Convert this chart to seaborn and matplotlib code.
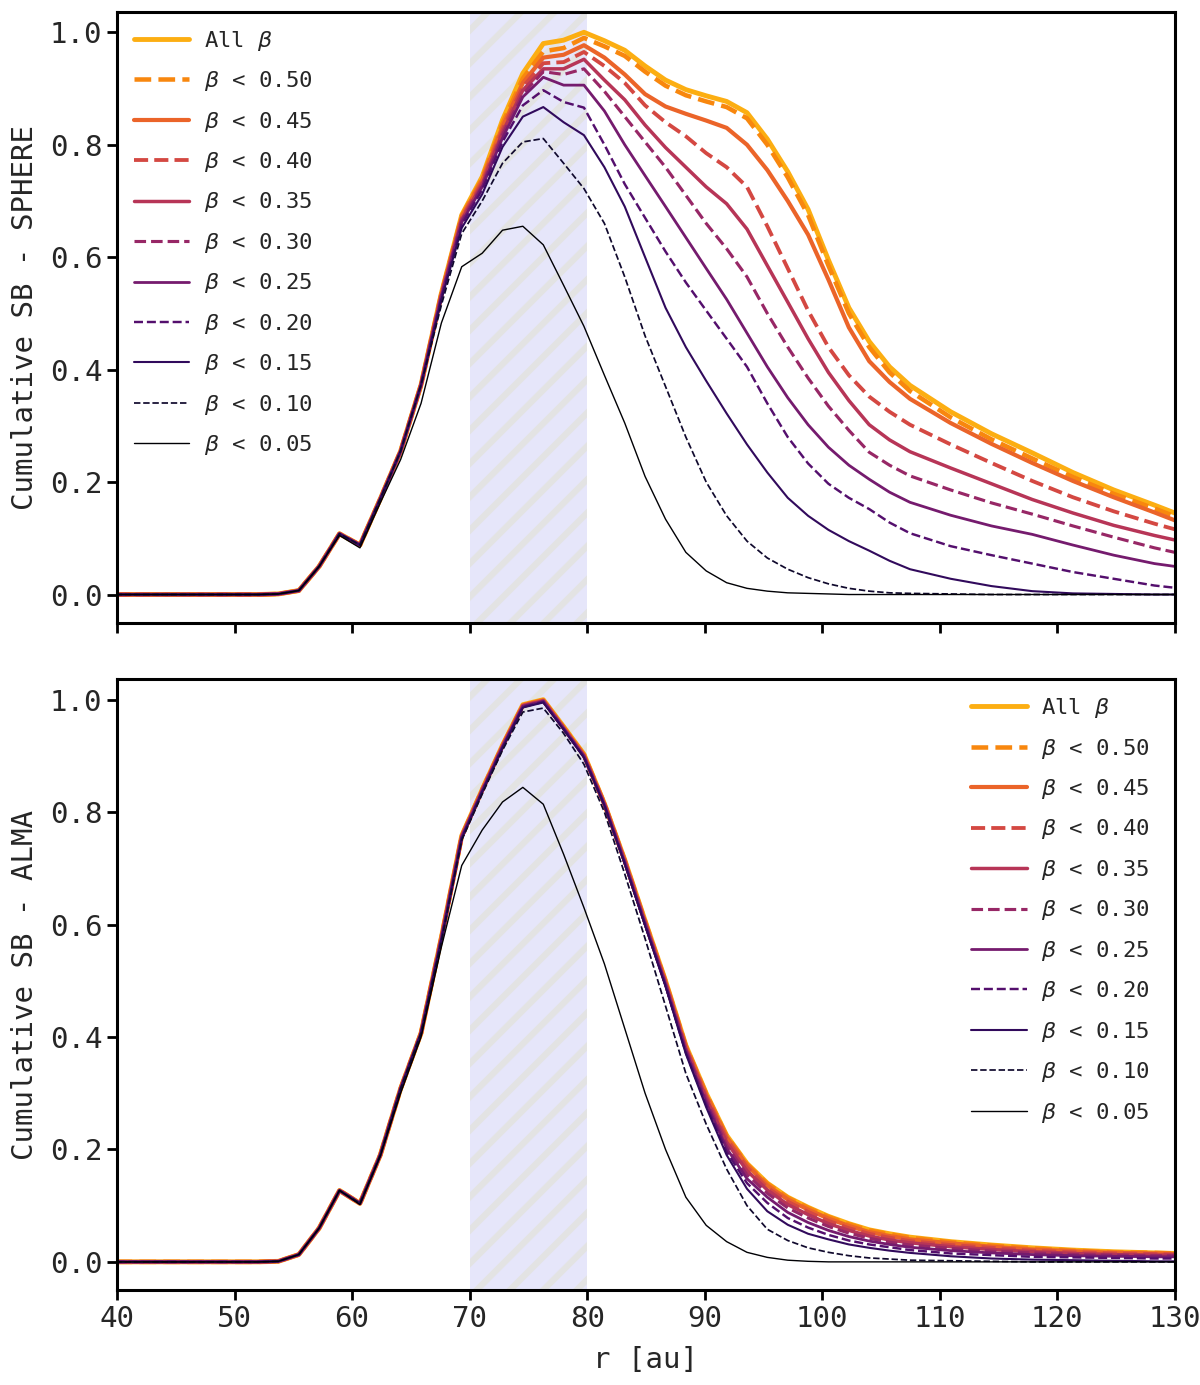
import numpy as np
import matplotlib
matplotlib.use("Agg")
import matplotlib.pyplot as plt
import seaborn as sns

# radial grid [au]
r_au = [39.87, 50.27, 52.0, 53.73, 55.47, 57.2, 58.93, 60.67, 62.4, 64.13, 65.87,
        67.6, 69.33, 71.07, 72.8, 74.53, 76.27, 78.0, 79.73, 81.47, 83.2, 84.93,
        86.67, 88.4, 90.13, 91.87, 93.6, 95.33, 97.07, 98.8, 100.53, 102.27, 104.0,
        105.73, 107.47, 110.93, 114.4, 117.87, 121.33, 124.8, 128.27, 130.0]

labels = ["All $\\beta$", "$\\beta$ < 0.50", "$\\beta$ < 0.45", "$\\beta$ < 0.40",
          "$\\beta$ < 0.35", "$\\beta$ < 0.30", "$\\beta$ < 0.25", "$\\beta$ < 0.20",
          "$\\beta$ < 0.15", "$\\beta$ < 0.10", "$\\beta$ < 0.05"]

# SPHERE panel
sphere_rise = [0, 0, 0, 0.001, 0.007, 0.05, 0.108, 0.088, 0.17, 0.255, 0.373]
sphere_rise_low = [0, 0, 0, 0.001, 0.007, 0.05, 0.105, 0.083, 0.163, 0.24, 0.34]
sphere_all = sphere_rise + [.536, .675, .743, .844, .927, .98, .986, 1.0, .985, .968, .94, .915, .898, .887, .877, .857,
                            .81, .752, .685, .595, .51, .45, .405, .372, .325, .286, .252, .217, .186, .159, .145]
sphere_b050 = sphere_rise + [.535, .673, .74, .838, .918, .966, .972, .99, .975, .958, .93, .905, .888, .877, .867, .847,
                             .8, .742, .675, .585, .5, .44, .395, .362, .315, .276, .242, .209, .179, .153, .139]
sphere_b045 = sphere_rise + [.534, .671, .737, .832, .91, .955, .96, .977, .955, .925, .89, .868, .855, .843, .83, .80,
                             .755, .70, .64, .56, .475, .415, .378, .348, .305, .268, .234, .202, .173, .146, .132]
sphere_b040 = sphere_rise + [.533, .669, .733, .827, .903, .945, .947, .965, .94, .91, .87, .84, .815, .785, .76, .725,
                             .655, .58, .505, .44, .39, .352, .325, .302, .267, .234, .202, .173, .148, .126, .116]
sphere_b035 = sphere_rise + [.532, .667, .73, .822, .897, .935, .935, .952, .915, .88, .835, .795, .76, .725, .695, .65,
                             .585, .52, .455, .395, .345, .302, .275, .254, .225, .197, .169, .145, .123, .105, .097]
sphere_b030 = sphere_rise + [.531, .665, .727, .818, .89, .93, .925, .935, .895, .85, .805, .76, .71, .66, .615, .565,
                             .5, .44, .385, .335, .292, .253, .23, .211, .186, .163, .143, .122, .102, .083, .075]
sphere_b025 = sphere_rise + [.53, .662, .725, .812, .885, .92, .906, .906, .86, .8, .745, .69, .635, .58, .525, .465,
                             .405, .35, .302, .262, .23, .205, .182, .164, .141, .122, .107, .088, .07, .055, .05]
sphere_b020 = sphere_rise + [.528, .658, .72, .805, .87, .897, .876, .866, .8, .73, .67, .61, .555, .505, .455, .405,
                             .34, .28, .233, .197, .172, .152, .128, .109, .086, .07, .055, .04, .028, .016, .012]
sphere_b015 = sphere_rise + [.525, .652, .712, .796, .85, .867, .84, .817, .76, .69, .6, .51, .44, .38, .322, .267,
                             .217, .172, .14, .115, .095, .078, .06, .045, .028, .015, .006, .002, .001, 0, 0]
sphere_b010 = sphere_rise + [.515, .642, .70, .767, .805, .811, .767, .722, .66, .565, .46, .37, .28, .2, .14, .095,
                             .065, .045, .03, .019, .011, .006, .003, .002, .001, 0, 0, 0, 0, 0, 0]
sphere_b005 = sphere_rise_low + [.483, .583, .607, .648, .655, .622, .55, .477, .39, .305, .21, .134, .075, .042, .021, .011,
                                 .006, .003, .002, .001, 0, 0, 0, 0, 0, 0, 0, 0, 0, 0, 0]

# ALMA panel
alma_rise = [0, 0, 0, 0.001, 0.013, 0.06, 0.127, 0.104, 0.19, 0.308, 0.407]
alma_rise_low = [0, 0, 0, 0.001, 0.013, 0.06, 0.127, 0.102, 0.188, 0.3, 0.4]
alma_all = alma_rise + [.577, .758, .84, .919, .991, 1.0, .952, .903, .815, .715, .607, .5, .385, .3, .225, .175,
                        .14, .115, .097, .081, .068, .057, .05, .044, .036, .03, .025, .021, .018, .016, .015]
alma_b050 = alma_rise + [.577, .757, .84, .918, .99, .999, .951, .902, .815, .714, .606, .499, .384, .299, .224, .174,
                         .139, .114, .096, .08, .067, .056, .049, .043, .035, .029, .024, .02, .017, .016, .015]
alma_b045 = alma_rise + [.576, .757, .839, .918, .99, .999, .95, .901, .815, .714, .605, .498, .383, .297, .222, .172,
                         .136, .111, .093, .077, .064, .053, .046, .04, .033, .027, .022, .019, .016, .015, .014]
alma_b040 = alma_rise + [.576, .756, .839, .917, .989, .998, .95, .9, .814, .713, .604, .497, .381, .294, .218, .168,
                         .132, .107, .089, .073, .06, .05, .043, .037, .03, .025, .02, .017, .015, .014, .013]
alma_b035 = alma_rise + [.575, .756, .838, .917, .989, .998, .949, .9, .814, .712, .603, .495, .379, .291, .213, .162,
                         .128, .102, .084, .068, .056, .046, .039, .034, .027, .022, .018, .015, .013, .012, .012]
alma_b030 = alma_rise + [.575, .755, .838, .916, .988, .997, .949, .899, .813, .711, .602, .494, .377, .287, .207, .155,
                         .122, .096, .078, .063, .051, .042, .035, .03, .024, .019, .016, .013, .012, .011, .011]
alma_b025 = alma_rise + [.574, .755, .837, .916, .988, .997, .948, .899, .813, .71, .601, .493, .375, .283, .202, .148,
                         .115, .088, .07, .056, .045, .037, .031, .026, .02, .016, .013, .011, .01, .009, .009]
alma_b020 = alma_rise + [.574, .754, .837, .915, .987, .996, .948, .898, .812, .709, .6, .492, .372, .279, .196, .14,
                         .105, .078, .061, .048, .038, .031, .026, .021, .015, .012, .009, .008, .007, .006, .006]
alma_b015 = alma_rise + [.573, .753, .836, .914, .986, .995, .947, .897, .812, .708, .598, .49, .37, .275, .19, .13,
                         .09, .066, .05, .04, .031, .025, .02, .016, .01, .006, .004, .003, .002, .001, .001]
alma_b010 = alma_rise + [.57, .75, .832, .91, .978, .985, .94, .885, .8, .69, .575, .455, .335, .245, .165, .1,
                         .058, .038, .025, .017, .011, .007, .005, .003, .002, .001, 0, 0, 0, 0, 0]
alma_b005 = alma_rise_low + [.56, .705, .768, .818, .844, .814, .725, .63, .53, .415, .3, .2, .115, .065, .036, .017,
                             .008, .003, .001, 0, 0, 0, 0, 0, 0, 0, 0, 0, 0, 0, 0]

sphere = [sphere_all, sphere_b050, sphere_b045, sphere_b040, sphere_b035, sphere_b030,
          sphere_b025, sphere_b020, sphere_b015, sphere_b010, sphere_b005]
alma = [alma_all, alma_b050, alma_b045, alma_b040, alma_b035, alma_b030,
        alma_b025, alma_b020, alma_b015, alma_b010, alma_b005]

sns.set_style("ticks")
plt.rcParams["font.family"] = ["DejaVu Sans Mono"]
plt.rcParams["mathtext.fontset"] = "dejavusans"
plt.rcParams["hatch.linewidth"] = 4.5
plt.rcParams["hatch.color"] = "#e3e3e3"

cmap = sns.color_palette("inferno", as_cmap=True)
colors = [cmap(v) for v in np.linspace(0.82, 0.0, 11)]
widths = np.linspace(3.5, 1.0, 11)
styles = ["-", "--"] * 5 + ["-"]

fig, (ax1, ax2) = plt.subplots(2, 1, figsize=(12, 13.85), dpi=100, sharex=True)
fig.subplots_adjust(left=0.0975, right=0.979, top=0.9913, bottom=0.0686, hspace=0.093)

for ax, series in ((ax1, sphere), (ax2, alma)):
    ax.axvspan(70, 80, facecolor="#e6e6fa", edgecolor="#e3e3e3", hatch="/", linewidth=0, zorder=0)
    for vals, lab, c, lw, ls in zip(series, labels, colors, widths, styles):
        sns.lineplot(x=r_au, y=vals, ax=ax, color=c, linewidth=lw, linestyle=ls, label=lab)
    ax.set_xlim(40, 130)
    ax.set_ylim(-0.05, 1.036)
    ax.set_yticks(np.arange(0, 1.01, 0.2))
    ax.set_xticks(np.arange(40, 131, 10))
    ax.tick_params(direction="out", length=7, width=2, labelsize=21, color="black")
    for sp in ax.spines.values():
        sp.set_linewidth(2.2)
        sp.set_color("black")

legend_kw = dict(frameon=False, fontsize=16, handlelength=2.5, handletextpad=0.65,
                 labelspacing=0.74, borderaxespad=0.35)
ax1.legend(loc="upper left", **legend_kw)
ax2.legend(loc="upper right", bbox_to_anchor=(0.992, 1.0), **legend_kw)

ax1.set_ylabel("Cumulative SB - SPHERE", fontsize=21, labelpad=8)
ax2.set_ylabel("Cumulative SB - ALMA", fontsize=21, labelpad=8)
ax2.set_xlabel("r [au]", fontsize=21, labelpad=10)
ax1.set_xlabel("")

fig.savefig("out.png", dpi=100)
